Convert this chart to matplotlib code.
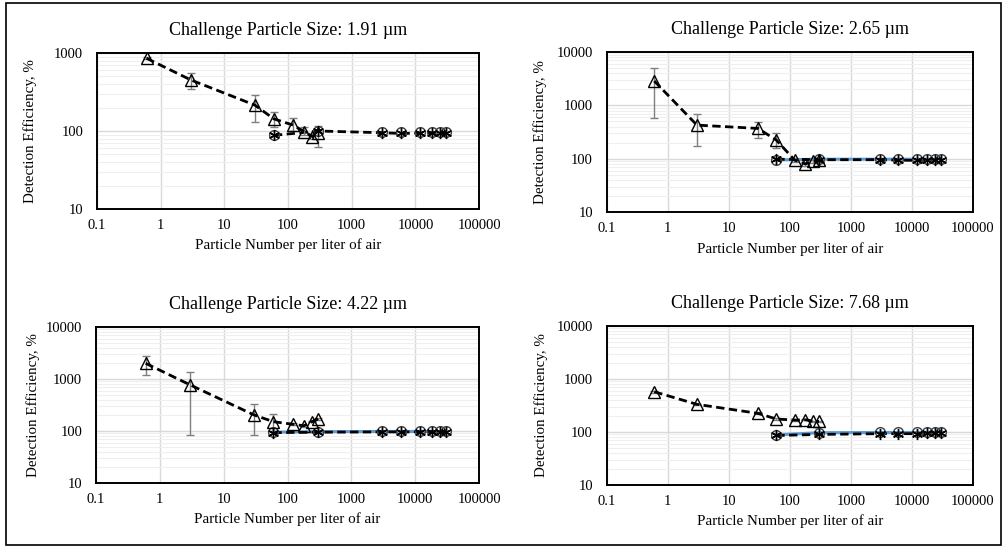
import matplotlib
matplotlib.use("Agg")
import matplotlib.pyplot as plt
from matplotlib.patches import Rectangle
from matplotlib.ticker import LogLocator, FixedLocator, NullFormatter, FuncFormatter

plt.rcParams["font.family"] = ["Liberation Serif", "DejaVu Serif"]

# ----------------------------- data ------------------------------------------
titles = [
    "Challenge Particle Size: 1.91 \u00b5m",
    "Challenge Particle Size: 2.65 \u00b5m",
    "Challenge Particle Size: 4.22 \u00b5m",
    "Challenge Particle Size: 7.68 \u00b5m",
]
y_max = [1000, 10000, 10000, 10000]

# low-concentration series (triangles, with error bars)
x_low = [0.6, 3, 30, 60, 120, 180, 240, 300]
tri_1 = [855, 450, 215, 143, 119, 98, 85, 93]
tri_1_hi = [880, 550, 290, 177, 148, 111, 92, 116]
tri_1_lo = [830, 346, 132, 112, 100, 88, 78, 63]
tri_2 = [2860, 427, 370, 224, 94, 80, 90, 95]
tri_2_hi = [5080, 678, 490, 306, 102, 86, 96, 102]
tri_2_lo = [570, 175, 246, 160, 86, 74, 84, 88]
tri_3 = [2000, 767, 203, 151, 135, 126, 151, 170]
tri_3_hi = [2770, 1380, 326, 210, 140, 130, 156, 175]
tri_3_lo = [1190, 82, 84, 100, 130, 122, 146, 165]
tri_4 = [575, 333, 225, 176, 168, 170, 160, 158]
tri_4_hi = [600, 345, 235, 182, 172, 174, 164, 162]
tri_4_lo = [550, 322, 215, 170, 164, 166, 156, 154]

# high-concentration series (circles and asterisks)
x_high = [60, 300, 3000, 6000, 12000, 18000, 24000, 30000]
circ_1 = [90, 100, 98, 98, 98, 98, 98, 98]
circ_2 = [95, 98, 98, 98, 98, 98, 98, 98]
circ_3 = [95, 97, 98, 98, 98, 98, 98, 98]
circ_4 = [88, 97, 98, 98, 98, 99, 99, 99]
star_1 = [88, 100, 95, 93, 94, 95, 95, 94]
star_2 = [98, 96, 96, 94, 93, 94, 94, 94]
star_3 = [93, 95, 96, 96, 96, 97, 97, 97]
star_4 = [86, 90, 93, 93, 93, 94, 94, 94]

tri_vals = [tri_1, tri_2, tri_3, tri_4]
tri_his = [tri_1_hi, tri_2_hi, tri_3_hi, tri_4_hi]
tri_los = [tri_1_lo, tri_2_lo, tri_3_lo, tri_4_lo]
circ_vals = [circ_1, circ_2, circ_3, circ_4]
star_vals = [star_1, star_2, star_3, star_4]
blue_line = [False, True, True, True]

# axes rectangles in figure fractions, and y-label x offsets (axes fraction)
positions = [
    [0.0967, 0.6186, 0.381, 0.2847],
    [0.605, 0.613, 0.365, 0.292],
    [0.0957, 0.1186, 0.382, 0.2847],
    [0.605, 0.115, 0.365, 0.290],
]
ylabel_x = [-0.157, -0.164, -0.146, -0.161]

fig = plt.figure(figsize=(10.03, 5.48), dpi=100)
fig.patches.append(Rectangle((0.006, 0.005), 0.992, 0.99, transform=fig.transFigure,
                             fill=False, edgecolor="black", linewidth=1.2))

dash = (0, (3.0, 1.6))
for i in range(4):
    ax = fig.add_axes(positions[i])
    ax.set_xscale("log")
    ax.set_yscale("log")
    ax.set_xlim(0.1, 100000)
    ax.set_ylim(10, y_max[i])

    # gridlines
    ax.xaxis.set_major_locator(FixedLocator([0.1, 1, 10, 100, 1000, 10000, 100000]))
    ax.xaxis.set_minor_locator(FixedLocator([]))
    ax.yaxis.set_major_locator(LogLocator(base=10, numticks=10))
    ax.yaxis.set_minor_locator(LogLocator(base=10, subs=range(2, 10), numticks=10))
    ax.yaxis.set_minor_formatter(NullFormatter())
    fmt = FuncFormatter(lambda v, p: f"{v:g}" if v < 1 else f"{int(round(v))}")
    ax.xaxis.set_major_formatter(fmt)
    ax.yaxis.set_major_formatter(fmt)
    ax.grid(True, which="major", color="#d9d9d9", linewidth=1.0)
    ax.grid(True, which="minor", axis="y", color="#efefef", linewidth=0.8)
    ax.set_axisbelow(True)
    ax.tick_params(which="both", length=0, labelsize=10.5)
    ax.tick_params(axis="x", pad=7)
    ax.tick_params(axis="y", pad=10)
    for s in ax.spines.values():
        s.set_linewidth(1.4)

    # high-concentration series
    if blue_line[i]:
        ax.plot(x_high, circ_vals[i], color="#5b9bd5", linewidth=2.2, zorder=2)
    ax.plot(x_high, star_vals[i], color="black", linestyle=dash, linewidth=2.0, zorder=3)
    ax.plot(x_high, circ_vals[i], linestyle="none", marker="o", markersize=7,
            markerfacecolor="none", markeredgecolor="#404040", markeredgewidth=1.0, zorder=4)
    ax.plot(x_high, star_vals[i], linestyle="none", marker=(6, 2, 0), markersize=8,
            color="black", markeredgewidth=1.0, zorder=4)

    # low-concentration series with error bars
    yerr = [[v - lo for v, lo in zip(tri_vals[i], tri_los[i])],
            [hi - v for v, hi in zip(tri_vals[i], tri_his[i])]]
    ax.errorbar(x_low, tri_vals[i], yerr=yerr, fmt="none", ecolor="#7f7f7f",
                elinewidth=1.0, capsize=3, capthick=1.0, zorder=3)
    ax.plot(x_low, tri_vals[i], color="black", linestyle=dash, linewidth=2.0,
            marker="^", markersize=8, markerfacecolor="none",
            markeredgecolor="black", markeredgewidth=1.0, zorder=5)

    ax.set_title(titles[i], fontsize=13, pad=13)
    ax.set_xlabel("Particle Number per liter of air", fontsize=10.8, labelpad=5)
    ax.set_ylabel("Detection Efficiency, %", fontsize=10.8)
    ax.yaxis.set_label_coords(ylabel_x[i], 0.5)

fig.savefig("out.png", dpi=100)
